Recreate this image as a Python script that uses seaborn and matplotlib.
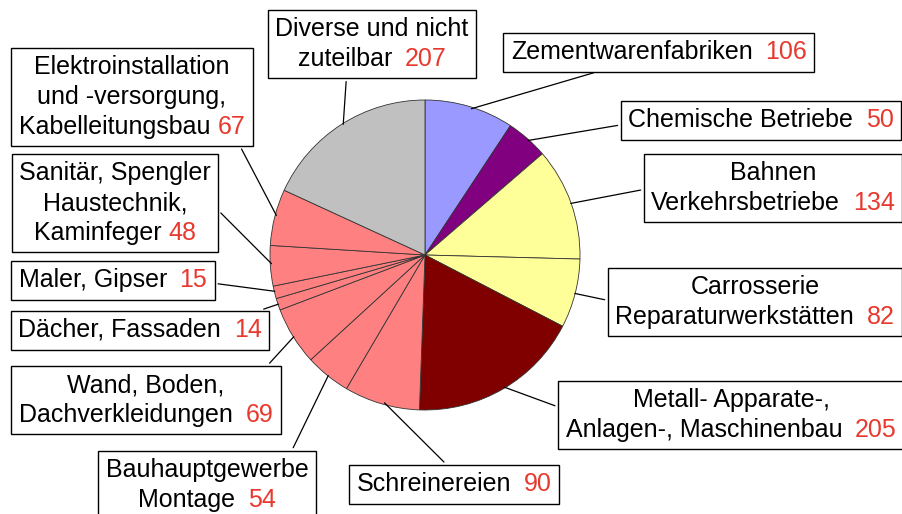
import numpy as np
import matplotlib.pyplot as plt
import seaborn as sns
from matplotlib.offsetbox import TextArea, HPacker, VPacker, AnnotationBbox

sns.set_style("white")
plt.rcParams['font.family'] = ['Liberation Sans', 'DejaVu Sans']

# Branchen (clockwise from 12 o'clock) and counts
names = [
    "Zementwarenfabriken",
    "Chemische Betriebe",
    "Bahnen\nVerkehrsbetriebe",
    "Carrosserie\nReparaturwerkstätten",
    "Metall- Apparate-,\nAnlagen-, Maschinenbau",
    "Schreinereien",
    "Bauhauptgewerbe\nMontage",
    "Wand, Boden,\nDachverkleidungen",
    "Dächer, Fassaden",
    "Maler, Gipser",
    "Sanitär, Spengler\nHaustechnik,\nKaminfeger",
    "Elektroinstallation\nund -versorgung,\nKabelleitungsbau",
    "Diverse und nicht\nzuteilbar",
]
counts = [106, 50, 134, 82, 205, 90, 54, 69, 14, 15, 48, 67, 207]
colors = ["#9999ff", "#800080", "#ffff99", "#ffff99", "#800000",
          "#ff8080", "#ff8080", "#ff8080", "#ff8080", "#ff8080",
          "#ff8080", "#ff8080", "#c0c0c0"]

# label box centres in pixels (origin top left) and where the leader leaves the box
box_pos = [(659, 52), (761, 120), (773, 188), (755, 302), (731, 415),
           (454, 484), (207, 485), (146, 400), (140, 330), (113, 280),
           (115, 203), (132, 97), (372, 44)]
leader_from = [(0.38, 0), (0, 0.35), (0, 0.5), (0, 0.5), (0, 0.6),
               (0.5, 1), (0.9, 1), (0.95, 1), (0.9, 1), (1, 0.4),
               (1, 0.5), (0.96, 0), (0.37, 0)]
num_gap = [9, 9, 9, 9, 9, 9, 9, 9, 9, 9, 5, 5, 9]

W, H = 903, 514
cx, cy, r = 425, H - 255, 155

fig = plt.figure(figsize=(W / 100, H / 100), dpi=100)
ax = fig.add_axes([0, 0, 1, 1])
wedges, _ = ax.pie(counts, colors=colors, startangle=90, counterclock=False,
                   center=(cx, cy), radius=r, frame=True,
                   wedgeprops=dict(edgecolor="#333333", linewidth=0.6))
ax.set_xlim(0, W)
ax.set_ylim(0, H)
ax.set_aspect("equal")
ax.axis("off")

fs = 18
red = "#e8392e"
for w, name, n, (bx, by), rel, gap in zip(wedges, names, counts, box_pos,
                                          leader_from, num_gap):
    lines = name.split("\n")
    rows = []
    for i, ln in enumerate(lines):
        t = TextArea(ln, textprops=dict(fontsize=fs, color="black"))
        if i == len(lines) - 1:
            num = TextArea(str(n), textprops=dict(fontsize=fs, color=red))
            rows.append(HPacker(children=[t, num], align="baseline", pad=0, sep=gap))
        else:
            rows.append(t)
    pack = VPacker(children=rows, align="center", pad=0, sep=4)
    mid = np.deg2rad((w.theta1 + w.theta2) / 2)
    px = cx + 0.98 * r * np.cos(mid)
    py = cy + 0.98 * r * np.sin(mid)
    ab = AnnotationBbox(pack, (px, py), xybox=(bx, H - by),
                        xycoords="data", boxcoords="data", frameon=True,
                        pad=0.4, fontsize=fs,
                        bboxprops=dict(edgecolor="black", linewidth=1,
                                       boxstyle="square", facecolor="white"),
                        arrowprops=dict(arrowstyle="-", color="black", lw=0.9,
                                        relpos=rel))
    ax.add_artist(ab)

plt.savefig("out.png", dpi=100)
